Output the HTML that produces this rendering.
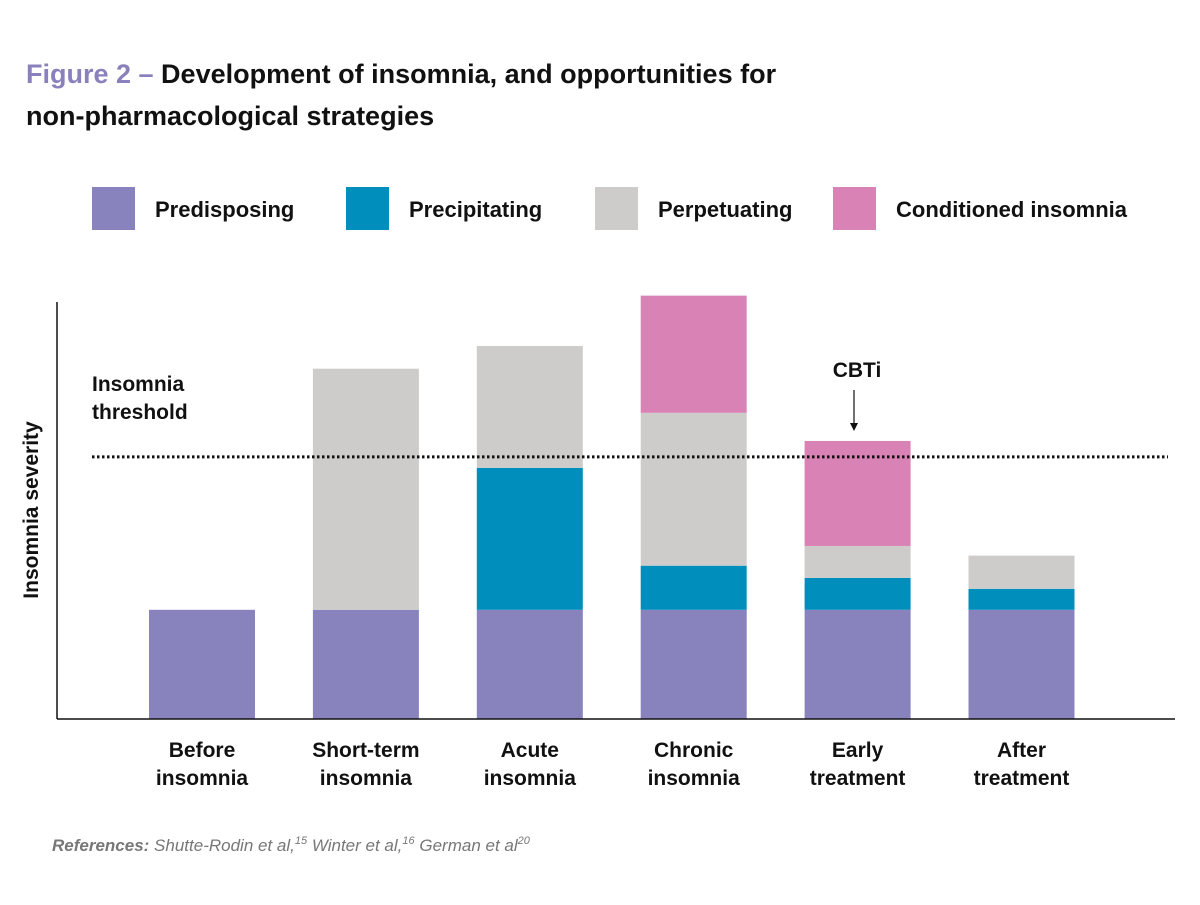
<!DOCTYPE html>
<html><head><meta charset="utf-8"><style>
body{margin:0;background:#fff;}
svg text{font-family:"Liberation Sans",sans-serif;}
</style></head><body>
<svg width="1200" height="900" viewBox="0 0 1200 900">
<text x="26" y="83" font-size="27" font-weight="bold"><tspan fill="#8a80bb">Figure 2 –</tspan><tspan fill="#111"> Development of insomnia, and opportunities for</tspan></text>
<text x="26" y="125" font-size="27" font-weight="bold" fill="#111">non-pharmacological strategies</text>
<g id="legend"></g>
<g id="bars"></g>
<line x1="57" y1="302" x2="57" y2="719" stroke="#111" stroke-width="1.5"/>
<line x1="57" y1="719" x2="1175" y2="719" stroke="#111" stroke-width="1.5"/>
<text transform="translate(38,510) rotate(-90)" text-anchor="middle" font-size="21" font-weight="bold" fill="#111">Insomnia severity</text>
<line id="thr" x1="92" x2="1168" stroke="#111" stroke-width="3" stroke-dasharray="2.5,2.5"/>
<text x="92" y="391" font-size="21" font-weight="bold" fill="#111">Insomnia<tspan x="92" dy="28">threshold</tspan></text>
<text x="857" y="377" text-anchor="middle" font-size="21" font-weight="bold" fill="#111">CBTi</text>
<line x1="854" y1="390" x2="854" y2="424" stroke="#111" stroke-width="1.2"/>
<path d="M850,423 L854,431 L858,423 Z" fill="#111"/>
<g id="xlabels"></g>
<text x="52" y="851" font-size="17" font-style="italic" fill="#777"><tspan font-weight="bold">References:</tspan> Shutte-Rodin et al,<tspan font-size="11" dy="-7">15</tspan><tspan dy="7"> Winter et al,</tspan><tspan font-size="11" dy="-7">16</tspan><tspan dy="7"> German et al</tspan><tspan font-size="11" dy="-7">20</tspan></text>
</svg>
<script>
const categories=[["Before","insomnia"],["Short-term","insomnia"],["Acute","insomnia"],["Chronic","insomnia"],["Early","treatment"],["After","treatment"]];
const seriesNames=["Predisposing","Precipitating","Perpetuating","Conditioned insomnia"];
const predisposing=[26,26,26,26,26,26];
const precipitating=[0,0,33.8,10.5,7.6,5];
const perpetuating=[0,57.4,29,36.4,7.6,7.9];
const conditioned=[0,0,0,27.9,25,0];
const threshold=62.4;
const colors=["#8882bd","#008fbc","#cdcccb","#d982b5"];
const NS="http://www.w3.org/2000/svg";
const y0=719,pxPerUnit=4.2;
function yScale(v){return y0-v*pxPerUnit;}
function xScale(i){return 149+i*163.9;}
const bw=106;
const bars=document.getElementById('bars');
const series=[predisposing,precipitating,perpetuating,conditioned];
categories.forEach((c,i)=>{
  let acc=0;
  series.forEach((s,k)=>{
    if(s[i]<=0)return;
    const r=document.createElementNS(NS,'rect');
    r.setAttribute('x',xScale(i));r.setAttribute('width',bw);
    r.setAttribute('y',yScale(acc+s[i]));r.setAttribute('height',s[i]*pxPerUnit);
    r.setAttribute('fill',colors[k]);
    
    
    bars.appendChild(r);acc+=s[i];
  });
  const t=document.createElementNS(NS,'text');
  t.setAttribute('x',xScale(i)+bw/2);t.setAttribute('y',757);
  t.setAttribute('text-anchor','middle');t.setAttribute('font-size','21');t.setAttribute('font-weight','bold');t.setAttribute('fill','#111');
  
  
  t.innerHTML='<tspan x="'+(xScale(i)+bw/2)+'">'+c[0]+'</tspan><tspan x="'+(xScale(i)+bw/2)+'" dy="28">'+c[1]+'</tspan>';
  document.getElementById('xlabels').appendChild(t);
});
const thr=document.getElementById('thr');
thr.setAttribute('y1',yScale(threshold));thr.setAttribute('y2',yScale(threshold));
const lg=document.getElementById('legend');
const lx=[92,346,595,833];
seriesNames.forEach((n,k)=>{
  const r=document.createElementNS(NS,'rect');
  r.setAttribute('x',lx[k]);r.setAttribute('y',187);r.setAttribute('width',43);r.setAttribute('height',43);r.setAttribute('fill',colors[k]);
  
  
  lg.appendChild(r);
  const t=document.createElementNS(NS,'text');
  t.setAttribute('x',lx[k]+63);t.setAttribute('y',217);t.setAttribute('font-size','22');t.setAttribute('font-weight','bold');t.setAttribute('fill','#111');
  t.textContent=n;
  
  
  lg.appendChild(t);
});
</script>
</body></html>
